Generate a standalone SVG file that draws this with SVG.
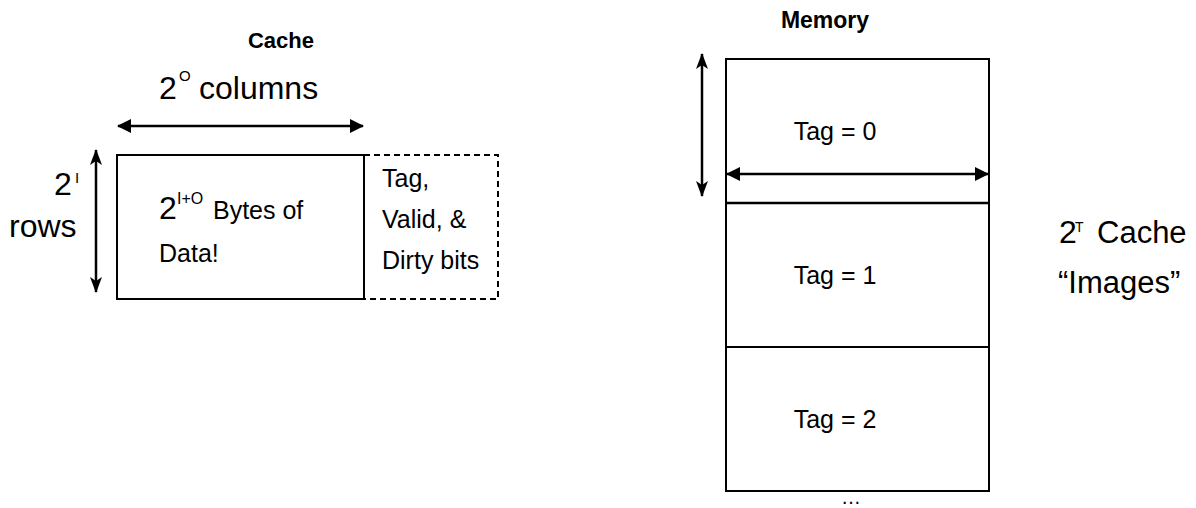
<svg xmlns="http://www.w3.org/2000/svg" width="1196" height="508" viewBox="0 0 1196 508">
  <style>
    text { font-family: "Liberation Sans", Arial, sans-serif; fill: #000; }
    .title { font-weight: bold; font-size: 22px; text-anchor: middle; }
    .big { font-size: 32px; }
    .mid { font-size: 25px; }
    .sup { font-size: 15px; }
    .box { fill: #fff; stroke: #000; stroke-width: 2; }
    .dash { fill: none; stroke: #000; stroke-width: 2; stroke-dasharray: 6 4; }
    .arrow { stroke: #000; stroke-width: 2.5; fill: none; }
    .harrow { marker-start: url(#headH); marker-end: url(#headH); }
    .varrow { marker-start: url(#headV); marker-end: url(#headV); }
  </style>
  <defs>
    <marker id="headH" viewBox="0 0 14 14" refX="13" refY="7" markerWidth="14" markerHeight="14" markerUnits="userSpaceOnUse" orient="auto-start-reverse">
      <path d="M0,0 L14,7 L0,14 Z" fill="#000"/>
    </marker>
    <marker id="headV" viewBox="0 0 16 12" refX="15" refY="6" markerWidth="16" markerHeight="12" markerUnits="userSpaceOnUse" orient="auto-start-reverse">
      <path d="M0,0 L16,6 L0,12 L4,6 Z" fill="#000"/>
    </marker>
  </defs>

  <!-- Cache block -->
  <g id="cache">
    <text class="title" x="281" y="48">Cache</text>
    <rect class="box" x="117" y="155" width="247" height="144"/>
    <text class="big" x="159" y="219">2</text>
    <text class="sup" x="177" y="204" style="font-size:16px">I+O</text>
    <text class="mid" x="213" y="219">Bytes of</text>
    <text class="mid" x="159" y="262">Data!</text>
  </g>

  <!-- Per-line metadata (tag, valid, dirty) -->
  <g id="cache-meta">
    <path class="dash" d="M364,155 H498 V299 H364"/>
    <text class="mid" x="382" y="187">Tag,</text>
    <text class="mid" x="382" y="228">Valid, &amp;</text>
    <text class="mid" x="382" y="269">Dirty bits</text>
  </g>

  <!-- Cache dimensions -->
  <g id="cache-cols-label">
    <text class="big" x="159" y="99">2</text>
    <text class="sup" x="179" y="81">O</text>
    <text class="big" x="199" y="99">columns</text>
  </g>
  <g id="cache-rows-label">
    <text class="big" x="54" y="195">2</text>
    <text class="sup" x="75" y="183">I</text>
    <text class="big" x="9" y="237">rows</text>
  </g>

  <!-- Memory split into cache-sized images -->
  <g id="memory">
    <text class="title" x="825" y="28" style="font-size:23px">Memory</text>
    <rect class="box" x="726" y="59" width="263" height="432"/>
    <line x1="726" y1="203" x2="989" y2="203" stroke="#000" stroke-width="2.5"/>
    <line x1="726" y1="347" x2="989" y2="347" stroke="#000" stroke-width="2"/>
    <text class="mid" x="835" y="140" text-anchor="middle">Tag = 0</text>
    <text class="mid" x="835" y="284" text-anchor="middle">Tag = 1</text>
    <text class="mid" x="835" y="428" text-anchor="middle">Tag = 2</text>
    <text x="851" y="504" text-anchor="middle" style="font-size:20px">…</text>
  </g>

  <g id="images-label">
    <text class="big" x="1059" y="243">2</text>
    <text x="1075" y="232" style="font-size:14px">T</text>
    <text class="big" x="1097" y="243" style="font-size:31px">Cache</text>
    <text class="big" x="1058" y="293" style="font-size:31px">“Images”</text>
  </g>

  <!-- Dimension arrows -->
  <g id="connectors">
    <line class="arrow harrow" x1="118" y1="126" x2="363" y2="126"/>
    <line class="arrow varrow" x1="96" y1="150" x2="96" y2="292"/>
    <line class="arrow varrow" x1="702" y1="54" x2="702" y2="196"/>
    <line class="arrow harrow" x1="727" y1="174" x2="988" y2="174"/>
  </g>
</svg>
